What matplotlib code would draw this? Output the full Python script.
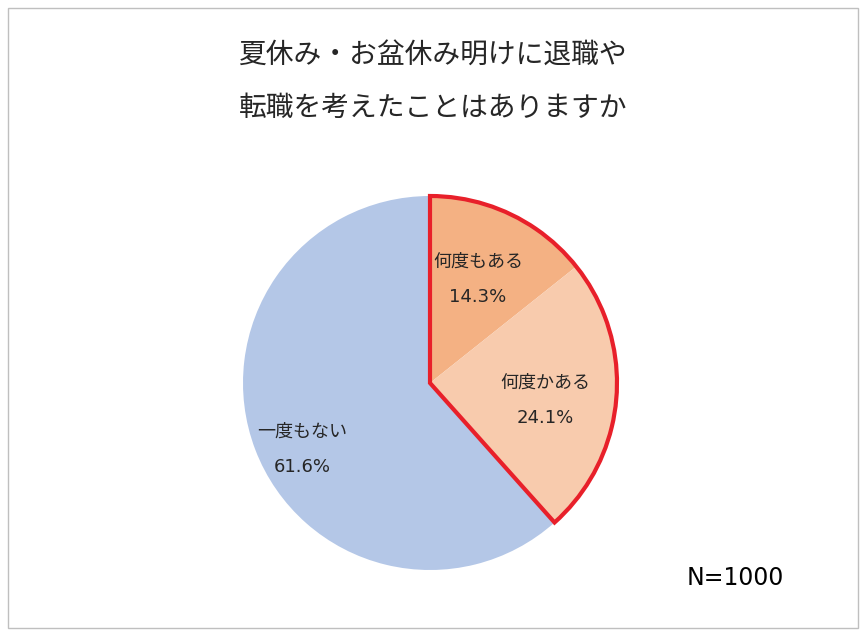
import matplotlib
matplotlib.use("Agg")
import matplotlib.pyplot as plt
from matplotlib.patches import Wedge, Rectangle

plt.rcParams["font.family"] = "Noto Sans CJK JP"

labels = ["何度もある", "何度かある", "一度もない"]
values = [14.3, 24.1, 61.6]
colors = ["#F4B183", "#F8CBAD", "#B4C7E7"]
title_lines = ["夏休み・お盆休み明けに退職や", "転職を考えたことはありますか"]

W, H = 866, 636
fig = plt.figure(figsize=(W/100, H/100), dpi=100)
ax = fig.add_axes([0, 0, 1, 1])
ax.set_xlim(0, W); ax.set_ylim(0, H); ax.set_aspect("equal"); ax.axis("off")
ax.add_patch(Rectangle((8, 8), W-16, H-16, fill=False, edgecolor="#BFBFBF", lw=1))

cx, cy, r = 430, H-383, 187
ax.pie(values, colors=colors, startangle=90, counterclock=False,
       center=(cx, cy), radius=r, frame=True,
       wedgeprops=dict(edgecolor="none"))
ax.set_xlim(0, W); ax.set_ylim(0, H); ax.axis("off")

sel = sum(values[:2]) / 100 * 360
ax.add_patch(Wedge((cx, cy), r, 90-sel, 90, fill=False, edgecolor="#E8202A", lw=3, joinstyle="miter"))

fig.text(0.5, 1-55/H, title_lines[0], ha="center", va="center", fontsize=20, color="#262626")
fig.text(0.5, 1-108/H, title_lines[1], ha="center", va="center", fontsize=20, color="#262626")

pos = [(478, 262), (545, 383), (302, 432)]
for (x, y), l, v in zip(pos, labels, values):
    ax.text(x, H-y, l, ha="center", va="center", fontsize=13, color="#262626")
    ax.text(x, H-y-35, f"{v}%", ha="center", va="center", fontsize=13, color="#262626",
            family="DejaVu Sans")

ax.text(735, H-578, "N=1000", ha="center", va="center", fontsize=17, color="black",
        family="DejaVu Sans")
fig.savefig("out.png", dpi=100)
